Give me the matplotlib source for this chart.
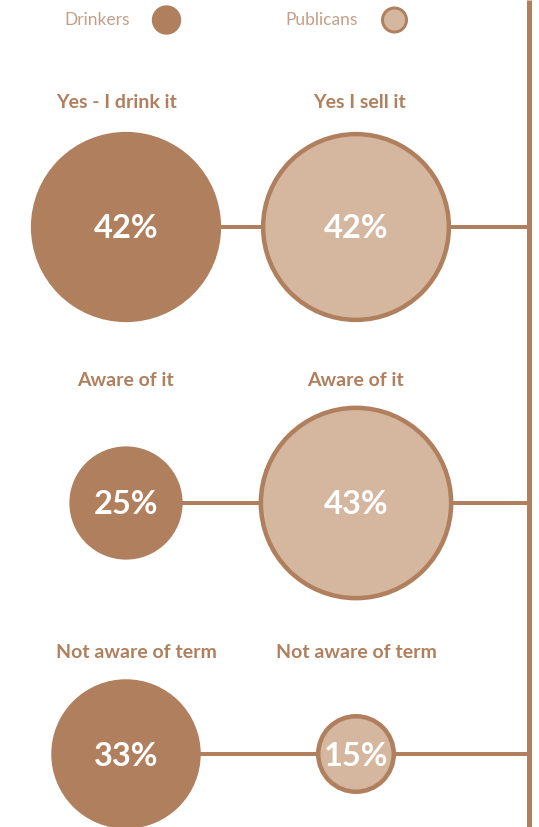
import matplotlib
matplotlib.use("Agg")
import matplotlib.pyplot as plt
from matplotlib.patches import Circle

# ---- data ----
drinker_labels = ["Yes - I drink it", "Aware of it", "Not aware of term"]
publican_labels = ["Yes I sell it", "Aware of it", "Not aware of term"]
drinker_values = [42, 25, 33]
publican_values = [42, 43, 15]
legend_labels = ["Drinkers", "Publicans"]

# ---- layout / style ----
W, H = 539, 827
row_y = [227, 503, 754]
label_y = [102, 381, 652]
drinker_x = 126
publican_x = 356
drinker_label_x = [117, 125, 136]
publican_label_x = [360, 355, 356]
spine_x = 529
px_per_pct = 2.265
min_radius = 40
dark = "#b0805e"
light = "#d5b7a0"
legend_text_color = "#c39f87"
PT = 72 / 100  # points per pixel at dpi=100

fig = plt.figure(figsize=(W / 100, H / 100), dpi=100)
ax = fig.add_axes([0, 0, 1, 1])
ax.set_xlim(0, W)
ax.set_ylim(H, 0)
ax.set_aspect("equal")
ax.axis("off")

font = "Lato"

def radius(v):
    return max(v * px_per_pct, min_radius)

# vertical spine
ax.plot([spine_x, spine_x], [0, H], color=dark, lw=5 * PT, solid_capstyle="butt", zorder=1)

border = 4.5
for i in range(len(drinker_values)):
    y = row_y[i]
    ax.plot([drinker_x, spine_x], [y, y], color=dark, lw=4 * PT, solid_capstyle="butt", zorder=1)
    rd = radius(drinker_values[i])
    ax.add_patch(Circle((drinker_x, y), rd, facecolor=dark, edgecolor="none", zorder=2))
    rp = radius(publican_values[i])
    ax.add_patch(Circle((publican_x, y), rp - border / 2, facecolor=light, edgecolor=dark,
                        lw=border * PT, zorder=2))
    ax.text(drinker_x, y + 2, f"{drinker_values[i]}%", color="white", fontsize=23.5,
            fontweight="bold", family=font, ha="center", va="center", zorder=3)
    ax.text(publican_x, y + 2, f"{publican_values[i]}%", color="white", fontsize=23.5,
            fontweight="bold", family=font, ha="center", va="center", zorder=3)
    ax.text(drinker_label_x[i], label_y[i], drinker_labels[i], color=dark, fontsize=14,
            fontweight="bold", family=font, ha="center", va="center")
    ax.text(publican_label_x[i], label_y[i], publican_labels[i], color=dark, fontsize=14,
            fontweight="bold", family=font, ha="center", va="center")

# legend
ax.text(130, 20, legend_labels[0], color=legend_text_color, fontsize=12.5, family=font,
        ha="right", va="center")
ax.add_patch(Circle((166.5, 20), 14.7, facecolor=dark, edgecolor="none"))
ax.text(358, 20, legend_labels[1], color=legend_text_color, fontsize=12.5, family=font,
        ha="right", va="center")
ax.add_patch(Circle((394.5, 20), 13.5 - 1.5, facecolor=light, edgecolor=dark, lw=3 * PT))

fig.savefig("out.png", dpi=100)
